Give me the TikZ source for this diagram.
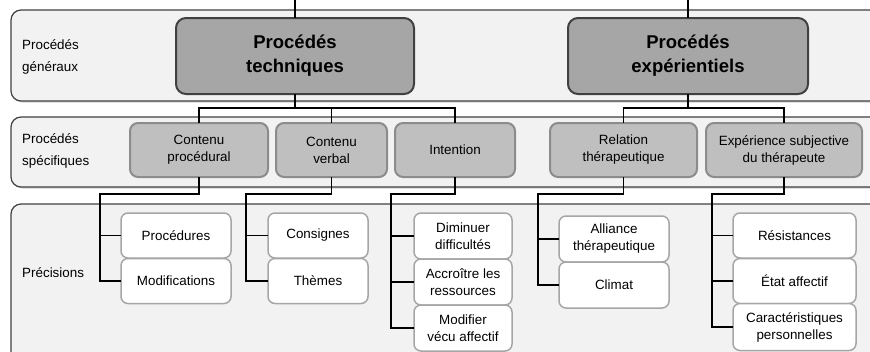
\documentclass[tikz,border=0pt]{standalone}
\usepackage{fontspec}
\setmainfont{Liberation Sans}
\usetikzlibrary{shadows}
\definecolor{bandfill}{HTML}{F2F2F2}
\definecolor{bandline}{HTML}{404040}
\definecolor{mainfill}{HTML}{A6A6A6}
\definecolor{subfill}{HTML}{BFBFBF}
\definecolor{subline}{HTML}{8C8C8C}
\definecolor{leafline}{HTML}{A6A6A6}
\begin{document}
\begin{tikzpicture}[x=1pt,y=-1pt,
  band/.style={draw=bandline, fill=bandfill, line width=1.2pt, rounded corners=10pt, inner sep=0, outer sep=0,
    drop shadow={shadow xshift=1pt, shadow yshift=-1.5pt, opacity=.35}},
  mainbox/.style={draw=bandline, fill=mainfill, line width=2pt, rounded corners=10pt, minimum height=76pt, inner sep=0, outer sep=0, align=center, font=\fontsize{18.5}{24}\selectfont\bfseries},
  subbox/.style={draw=subline, fill=subfill, line width=2pt, rounded corners=8pt, minimum height=54pt, inner sep=0, outer sep=0, align=center, font=\fontsize{13.4}{17}\selectfont},
  leafbox/.style={draw=leafline, fill=white, line width=1.5pt, rounded corners=7pt, inner sep=0, outer sep=0, align=center, font=\fontsize{13.4}{17}\selectfont},
  lbl/.style={anchor=west, align=left, inner sep=0, font=\fontsize{13.4}{22}\selectfont},
  conn/.style={draw=black, line width=1.2pt}
]
\useasboundingbox (0,0) rectangle (870,351);
\clip (0,0) rectangle (870,351);
% bands
\node[band, minimum width=900pt, minimum height=91pt] (b1) at (461,55.5) {};
\node[band, minimum width=900pt, minimum height=70pt] (b2) at (461,152) {};
\node[band, minimum width=900pt, minimum height=186pt] (b3) at (461,297) {};
% band labels
\node[lbl] (l1) at (22,57) {Procédés\\généraux};
\node[lbl] (l2) at (22,150.5) {Procédés\\spécifiques};
\node[lbl] (l3) at (22,273) {Précisions};
% top boxes
\node[mainbox, minimum width=238pt] (PT) at (295,56) {Procédés\\techniques};
\node[mainbox, minimum width=240pt] (PE) at (688,56) {Procédés\\expérientiels};
% level 2
\node[subbox, minimum width=138pt] (CP) at (199,150) {Contenu\\procédural};
\node[subbox, minimum width=111pt] (CV) at (331.5,150) {Contenu\\verbal};
\node[subbox, minimum width=120pt] (IN) at (455,150) {Intention};
\node[subbox, minimum width=147pt] (RT) at (623.5,150) {Relation\\thérapeutique};
\node[subbox, minimum width=156pt] (ES) at (784,150) {Expérience subjective\\du thérapeute};
% level 3
\node[leafbox, minimum width=110pt, minimum height=45pt] (PR) at (176,235.5) {Procédures};
\node[leafbox, minimum width=110pt, minimum height=45pt] (MO) at (176,281) {Modifications};
\node[leafbox, minimum width=100pt, minimum height=45pt] (CO) at (318,235.5) {Consignes};
\node[leafbox, minimum width=100pt, minimum height=45pt] (TH) at (318,281) {Thèmes};
\node[leafbox, minimum width=98pt, minimum height=46pt] (DI) at (463,236) {Diminuer\\difficultés};
\node[leafbox, minimum width=98pt, minimum height=46pt] (AC) at (463,282) {Accroître les\\ressources};
\node[leafbox, minimum width=98pt, minimum height=46pt] (MV) at (463,328) {Modifier\\vécu affectif};
\node[leafbox, minimum width=110pt, minimum height=46pt] (AL) at (614,239) {Alliance\\thérapeutique};
\node[leafbox, minimum width=110pt, minimum height=46pt] (CL) at (614,285) {Climat};
\node[leafbox, minimum width=123pt, minimum height=45pt] (RE) at (794.5,235.5) {Résistances};
\node[leafbox, minimum width=123pt, minimum height=45pt] (EA) at (794.5,281) {État affectif};
\node[leafbox, minimum width=123pt, minimum height=47pt] (CA) at (794.5,327) {Caractéristiques\\personnelles};
% connectors top
\coordinate (top1) at (295,0);
\coordinate (top2) at (688,0);
\coordinate (bus1) at (0,108);
\draw[conn] (top1) -- (PT.north);
\draw[conn] (top2) -- (PE.north);
\draw[conn] (PT.south) -- (PT.south |- bus1);
\draw[conn] (PE.south) -- (PE.south |- bus1);
\draw[conn] (CP.north) |- (IN.north |- bus1) -- (IN.north);
\draw[conn] (CV.north) -- (CV.north |- bus1);
\draw[conn] (RT.north) |- (ES.north |- bus1) -- (ES.north);
% connectors level 3
\coordinate (t1) at (100,194);
\coordinate (t2) at (246,194);
\coordinate (t3) at (391,194);
\coordinate (t4) at (538,194);
\coordinate (t5) at (712,194);
\draw[conn] (CP.south) |- (t1) |- (MO.west);
\draw[conn] (t1 |- PR.west) -- (PR.west);
\draw[conn] (CV.south) |- (t2) |- (TH.west);
\draw[conn] (t2 |- CO.west) -- (CO.west);
\draw[conn] (IN.south) |- (t3) |- (MV.west);
\draw[conn] (t3 |- DI.west) -- (DI.west);
\draw[conn] (t3 |- AC.west) -- (AC.west);
\draw[conn] (RT.south) |- (t4) |- (CL.west);
\draw[conn] (t4 |- AL.west) -- (AL.west);
\draw[conn] (ES.south) |- (t5) |- (CA.west);
\draw[conn] (t5 |- RE.west) -- (RE.west);
\draw[conn] (t5 |- EA.west) -- (EA.west);
\end{tikzpicture}
\end{document}
